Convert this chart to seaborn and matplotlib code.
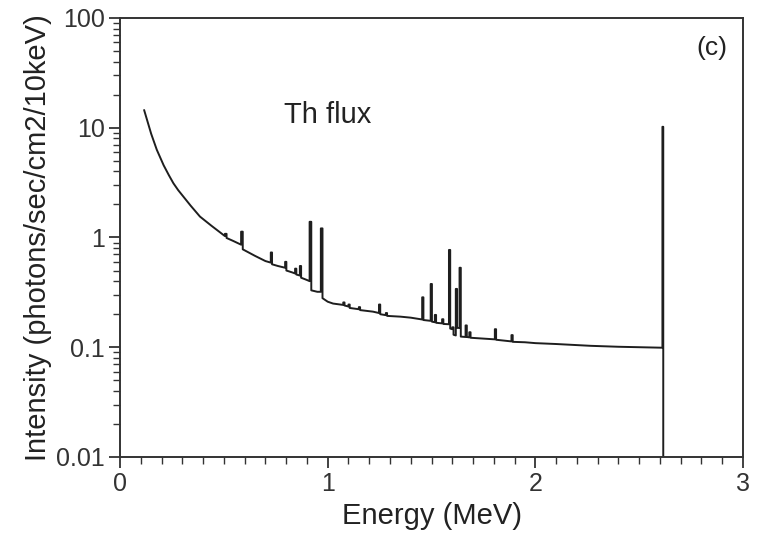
import matplotlib
matplotlib.use("Agg")
import matplotlib.pyplot as plt
import matplotlib.ticker as mticker
import numpy as np
import pandas as pd
import seaborn as sns

# Th flux spectrum trace (energy in MeV, intensity per 10 keV)
energy_mev = [
    0.116, 0.13, 0.15, 0.177, 0.21, 0.235, 0.257, 0.28, 0.30, 0.34, 0.385, 0.44, 0.475, 0.505,
    0.505, 0.513, 0.513, 0.545, 0.583,
    0.583, 0.591, 0.591, 0.65, 0.70, 0.726,
    0.726, 0.732, 0.732, 0.76, 0.795,
    0.795, 0.801, 0.801, 0.83, 0.843,
    0.843, 0.849, 0.849, 0.866,
    0.866, 0.872, 0.872, 0.90, 0.913,
    0.913, 0.921, 0.921, 0.95, 0.967,
    0.967, 0.975, 0.975, 1.0, 1.026, 1.075,
    1.075, 1.081, 1.081, 1.10,
    1.10, 1.106, 1.106, 1.15,
    1.15, 1.156, 1.156, 1.218, 1.247,
    1.247, 1.253, 1.253, 1.28,
    1.28, 1.286, 1.286, 1.35, 1.40, 1.455,
    1.455, 1.461, 1.461, 1.496,
    1.496, 1.502, 1.502, 1.516,
    1.516, 1.522, 1.522, 1.551,
    1.551, 1.557, 1.557, 1.584,
    1.584, 1.590, 1.590, 1.600,
    1.600, 1.606, 1.606, 1.617,
    1.617, 1.623, 1.623, 1.635,
    1.635, 1.641, 1.641, 1.664,
    1.664, 1.670, 1.670, 1.682,
    1.682, 1.688, 1.688, 1.75, 1.805,
    1.805, 1.811, 1.811, 1.885,
    1.885, 1.891, 1.891, 1.95, 2.0, 2.10, 2.267, 2.40, 2.50, 2.612,
    2.612, 2.616, 2.616,
]
intensity = [
    14.5, 11.8, 8.8, 6.3, 4.55, 3.7, 3.12, 2.7, 2.42, 1.95, 1.55, 1.28, 1.14, 1.03,
    1.08, 1.08, 0.99, 0.93, 0.86,
    1.13, 1.13, 0.78, 0.68, 0.61, 0.59,
    0.73, 0.73, 0.57, 0.55, 0.53,
    0.60, 0.60, 0.50, 0.48, 0.47,
    0.52, 0.52, 0.46, 0.45,
    0.55, 0.55, 0.43, 0.41, 0.40,
    1.39, 1.39, 0.33, 0.32, 0.32,
    1.21, 1.21, 0.28, 0.26, 0.25, 0.243,
    0.256, 0.256, 0.24, 0.235,
    0.245, 0.245, 0.228, 0.222,
    0.232, 0.232, 0.218, 0.211, 0.205,
    0.245, 0.245, 0.20, 0.196,
    0.205, 0.205, 0.193, 0.19, 0.186, 0.179,
    0.285, 0.285, 0.177, 0.174,
    0.377, 0.377, 0.171, 0.169,
    0.197, 0.197, 0.167, 0.165,
    0.18, 0.18, 0.163, 0.162,
    0.77, 0.77, 0.148, 0.146,
    0.152, 0.152, 0.13, 0.128,
    0.34, 0.34, 0.15, 0.15,
    0.53, 0.53, 0.125, 0.124,
    0.158, 0.158, 0.124, 0.123,
    0.137, 0.137, 0.122, 0.12, 0.118,
    0.146, 0.146, 0.117, 0.113,
    0.129, 0.129, 0.112, 0.111, 0.109, 0.107, 0.103, 0.101, 0.100, 0.099,
    10.2, 10.2, 0.001,
]

df = pd.DataFrame({"Energy": energy_mev, "Intensity": intensity})

sns.set_style("ticks")
plt.rcParams["font.family"] = ["Liberation Sans", "DejaVu Sans"]

fig = plt.figure(figsize=(7.67, 5.37), dpi=100)
ax = fig.add_axes([0.1565, 0.149, 0.8122, 0.8175])

sns.lineplot(data=df, x="Energy", y="Intensity", sort=False, estimator=None,
             color="#1e1e1e", linewidth=1.4, ax=ax)

ax.set_yscale("log")
ax.set_xlim(0, 3)
ax.set_ylim(0.01, 100)

ax.xaxis.set_major_locator(mticker.MultipleLocator(1))
ax.xaxis.set_minor_locator(mticker.MultipleLocator(0.1))
ax.yaxis.set_major_locator(mticker.LogLocator(base=10))
ax.yaxis.set_minor_locator(mticker.LogLocator(base=10, subs=np.arange(2, 10)))
ax.yaxis.set_minor_formatter(mticker.NullFormatter())
ax.yaxis.set_major_formatter(mticker.FuncFormatter(lambda v, p: f"{v:g}"))

ax.tick_params(which="major", direction="out", length=8, width=1.3,
               labelsize=18, colors="#333333", pad=3)
ax.tick_params(which="minor", direction="out", length=5, width=1.0, colors="#333333")
for s in ax.spines.values():
    s.set_linewidth(1.4)
    s.set_color("#333333")

ax.set_xlabel("Energy (MeV)", fontsize=21, color="#222222", labelpad=4)
ax.set_ylabel("Intensity (photons/sec/cm2/10keV)", fontsize=21, color="#222222", labelpad=3)

ax.text(1.0, 13, "Th flux", fontsize=21, ha="center", va="center", color="#222222")
ax.text(2.85, 53, "(c)", fontsize=19, ha="center", va="center", color="#222222")

fig.savefig("out.png", dpi=100)
